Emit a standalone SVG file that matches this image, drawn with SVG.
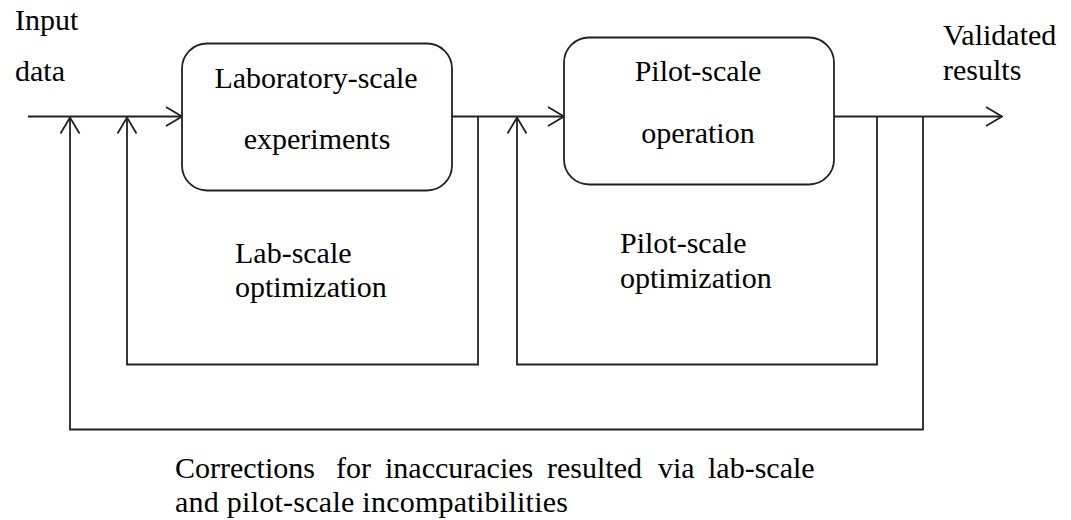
<svg xmlns="http://www.w3.org/2000/svg" width="1071" height="520" viewBox="0 0 1071 520">
  <style>
    .t { font-size: 30px; fill: #000; }
    .box { fill: #fff; stroke: #222; stroke-width: 1.8; }
    .ln { fill: none; stroke: #222; stroke-width: 1.8; }
  </style>
  <defs>
    <marker id="arr" viewBox="0 0 18 22" refX="17" refY="11" markerWidth="18" markerHeight="22" markerUnits="userSpaceOnUse" orient="auto">
      <path d="M1,1.5 L17,11 L1,20.5" fill="none" stroke="#222" stroke-width="1.8"/>
    </marker>
  </defs>
  <rect width="1071" height="520" fill="#fff"/>

  <g id="connectors">
    <line class="ln" x1="28" y1="116.5" x2="182" y2="116.5" marker-end="url(#arr)"/>
    <line class="ln" x1="452" y1="116.5" x2="564" y2="116.5" marker-end="url(#arr)"/>
    <line class="ln" x1="834" y1="116.5" x2="1002" y2="116.5" marker-end="url(#arr)"/>
    <path class="ln" d="M478,116.5 V364.5 H127 V117.5" marker-end="url(#arr)"/>
    <path class="ln" d="M877,116.5 V364.5 H517 V117.5" marker-end="url(#arr)"/>
    <path class="ln" d="M923,116.5 V429.5 H70 V117.5" marker-end="url(#arr)"/>
  </g>

  <g font-family="Liberation Serif, serif">
  <g id="lab">
    <rect class="box" x="182" y="43.5" width="270" height="147" rx="25" ry="25"/>
    <text class="t" x="316" y="88" text-anchor="middle">Laboratory-scale</text>
    <text class="t" x="317" y="149" text-anchor="middle">experiments</text>
  </g>

  <g id="pilot">
    <rect class="box" x="564" y="37.5" width="270" height="147" rx="25" ry="25"/>
    <text class="t" x="698" y="81" text-anchor="middle">Pilot-scale</text>
    <text class="t" x="698" y="143" text-anchor="middle">operation</text>
  </g>

  <g id="input">
    <text class="t" x="15" y="30">Input</text>
    <text class="t" x="15" y="81">data</text>
  </g>

  <g id="output">
    <text class="t" x="943" y="45">Validated</text>
    <text class="t" x="943" y="80">results</text>
  </g>

  <g id="lab-opt">
    <text class="t" x="235" y="263">Lab-scale</text>
    <text class="t" x="235" y="297">optimization</text>
  </g>

  <g id="pilot-opt">
    <text class="t" x="620" y="253">Pilot-scale</text>
    <text class="t" x="620" y="288">optimization</text>
  </g>

  <g id="corrections">
    <text class="t" y="478"><tspan x="175">Corrections</tspan><tspan x="336">for</tspan><tspan x="385">inaccuracies</tspan><tspan x="547">resulted</tspan><tspan x="658">via</tspan><tspan x="708">lab-scale</tspan></text>
    <text class="t" x="175" y="512" textLength="393" lengthAdjust="spacing">and pilot-scale incompatibilities</text>
  </g>
  </g>
</svg>
